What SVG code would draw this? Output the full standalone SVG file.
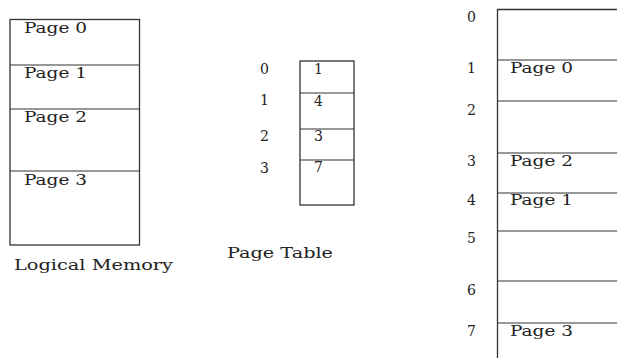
<svg xmlns="http://www.w3.org/2000/svg" width="617" height="358" viewBox="0 0 617 358">
<style>
text{font-family:"DejaVu Serif","Liberation Serif",serif;font-size:14px;fill:#222}
.box{fill:none;stroke:#333;stroke-width:1.3}
.ln{stroke:#333;stroke-width:1.2}
</style>
<rect width="617" height="358" fill="#fff"/>
<g id="logical-memory">
<rect class="box" x="10" y="19.5" width="129.5" height="225.5"/>
<line class="ln" x1="10" y1="65" x2="139.5" y2="65"/>
<line class="ln" x1="10" y1="109" x2="139.5" y2="109"/>
<line class="ln" x1="10" y1="171" x2="139.5" y2="171"/>
<text x="24" y="33" textLength="63" lengthAdjust="spacingAndGlyphs">Page 0</text>
<text x="24" y="78" textLength="63" lengthAdjust="spacingAndGlyphs">Page 1</text>
<text x="24" y="122" textLength="63" lengthAdjust="spacingAndGlyphs">Page 2</text>
<text x="24" y="185" textLength="63" lengthAdjust="spacingAndGlyphs">Page 3</text>
<text x="14" y="270" textLength="159" lengthAdjust="spacingAndGlyphs">Logical Memory</text>
</g>
<g id="page-table">
<rect class="box" x="300" y="61" width="54" height="144"/>
<line class="ln" x1="300" y1="93" x2="354" y2="93"/>
<line class="ln" x1="300" y1="129" x2="354" y2="129"/>
<line class="ln" x1="300" y1="160" x2="354" y2="160"/>
<text x="260" y="74">0</text>
<text x="260" y="105">1</text>
<text x="260" y="141">2</text>
<text x="260" y="173">3</text>
<text x="314" y="74">1</text>
<text x="314" y="106">4</text>
<text x="314" y="141">3</text>
<text x="314" y="172">7</text>
<text x="227" y="258" textLength="106" lengthAdjust="spacingAndGlyphs">Page Table</text>
</g>
<g id="physical-memory">
<polyline class="box" points="617,9.5 497.5,9.5 497.5,358"/>
<line class="ln" x1="497.5" y1="60" x2="617" y2="60"/>
<line class="ln" x1="497.5" y1="101" x2="617" y2="101"/>
<line class="ln" x1="497.5" y1="153" x2="617" y2="153"/>
<line class="ln" x1="497.5" y1="193" x2="617" y2="193"/>
<line class="ln" x1="497.5" y1="231" x2="617" y2="231"/>
<line class="ln" x1="497.5" y1="281" x2="617" y2="281"/>
<line class="ln" x1="497.5" y1="323" x2="617" y2="323"/>
<text x="467" y="22">0</text>
<text x="467" y="73">1</text>
<text x="467" y="115">2</text>
<text x="467" y="166">3</text>
<text x="467" y="205">4</text>
<text x="467" y="243">5</text>
<text x="467" y="295">6</text>
<text x="467" y="336">7</text>
<text x="510" y="73" textLength="63" lengthAdjust="spacingAndGlyphs">Page 0</text>
<text x="510" y="166" textLength="63" lengthAdjust="spacingAndGlyphs">Page 2</text>
<text x="510" y="205" textLength="63" lengthAdjust="spacingAndGlyphs">Page 1</text>
<text x="510" y="336" textLength="63" lengthAdjust="spacingAndGlyphs">Page 3</text>
</g>
<g id="connectors"></g>
</svg>
